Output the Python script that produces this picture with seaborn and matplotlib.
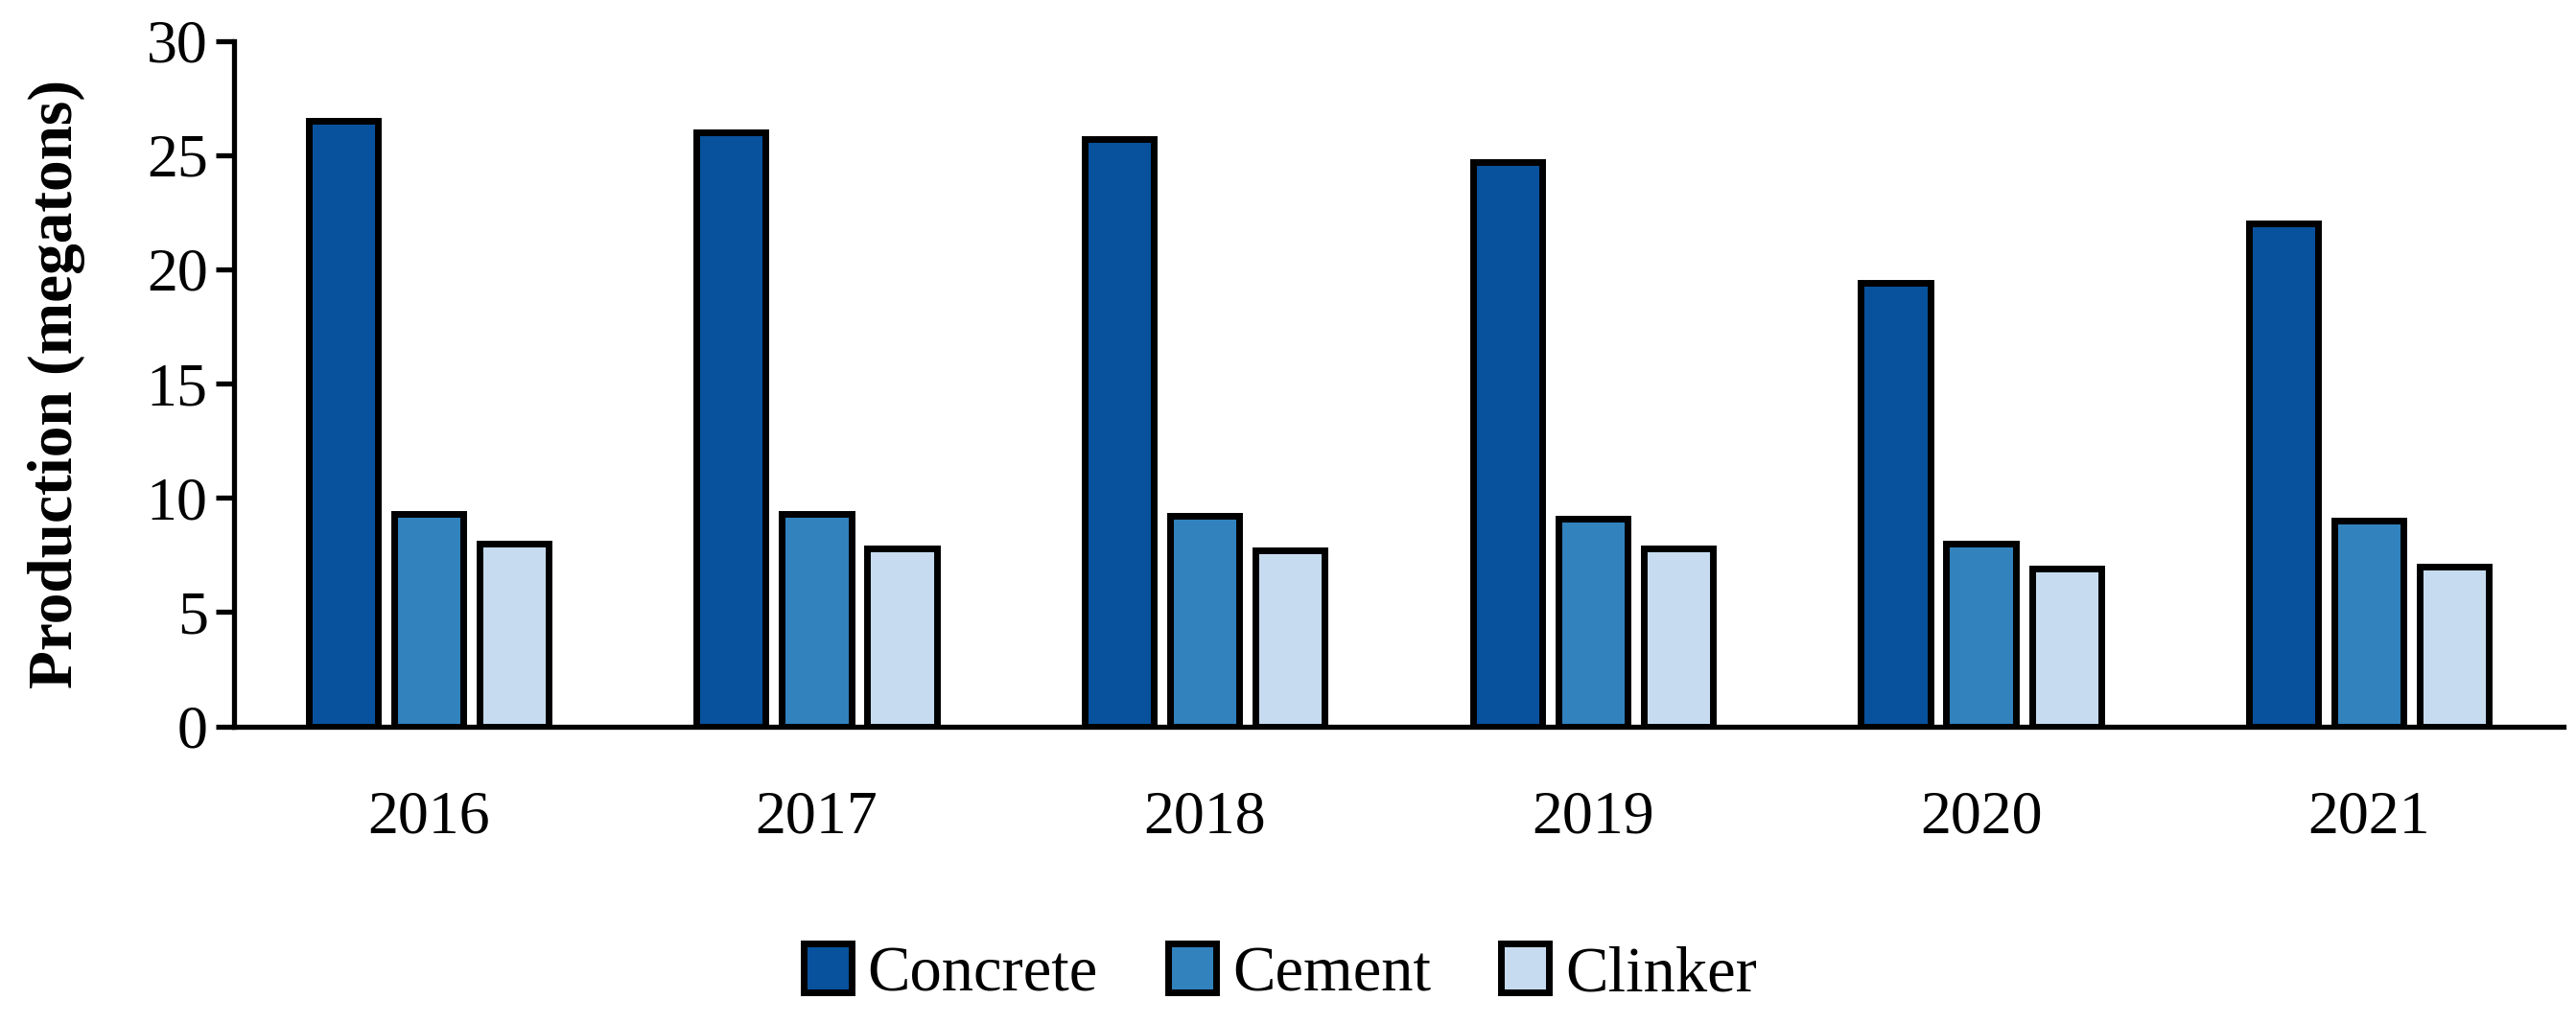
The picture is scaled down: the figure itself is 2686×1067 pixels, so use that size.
import pandas as pd
import matplotlib.pyplot as plt
import seaborn as sns

sns.set_theme(style="white")
plt.rcParams["font.family"] = ["Liberation Serif", "DejaVu Serif"]
plt.rcParams["text.color"] = "black"
plt.rcParams["axes.labelcolor"] = "black"
plt.rcParams["xtick.color"] = "black"
plt.rcParams["ytick.color"] = "black"

years = ["2016", "2017", "2018", "2019", "2020", "2021"]
concrete = [26.5, 26.0, 25.7, 24.7, 19.4, 22.0]
cement = [9.3, 9.3, 9.2, 9.1, 8.0, 9.0]
clinker = [8.0, 7.8, 7.7, 7.8, 6.9, 7.0]

materials = ["Concrete", "Cement", "Clinker"]
colors = ["#08519c", "#3182bd", "#c6dbef"]

df = pd.DataFrame({"year": years, "Concrete": concrete, "Cement": cement, "Clinker": clinker})
long_df = df.melt(id_vars="year", var_name="material", value_name="production")

fig, ax = plt.subplots(figsize=(26.86, 10.67), dpi=100)
fig.subplots_adjust(left=0.091, right=0.995, top=0.96, bottom=0.29)

sns.barplot(
    data=long_df, x="year", y="production", hue="material",
    hue_order=materials, palette=colors, width=0.66, gap=0.19,
    edgecolor="black", linewidth=5, saturation=1, ax=ax,
)

ax.set_ylim(0, 30)
ax.set_yticks(range(0, 31, 5))
ax.set_xlim(-0.5, 5.5)
ax.set_xlabel("")
ax.set_ylabel("Production (megatons)", fontsize=47, fontweight="bold", labelpad=46)

for side in ["top", "right"]:
    ax.spines[side].set_visible(False)
for side in ["left", "bottom"]:
    ax.spines[side].set_color("black")
    ax.spines[side].set_linewidth(3.8)

ax.tick_params(axis="y", left=True, length=14, width=3.8, color="black",
               labelsize=46, pad=6)
ax.tick_params(axis="x", bottom=False, labelsize=46, pad=42)

handles, labels = ax.get_legend_handles_labels()
ax.get_legend().remove()
leg = fig.legend(handles, labels, loc="center", bbox_to_anchor=(0.497, 0.048), ncol=3,
                 frameon=False, fontsize=48, handlelength=0.75, handleheight=0.8,
                 handletextpad=0.25, columnspacing=1.1)
for h in leg.legend_handles:
    h.set_linewidth(5)

fig.savefig("out.png", dpi=100)
